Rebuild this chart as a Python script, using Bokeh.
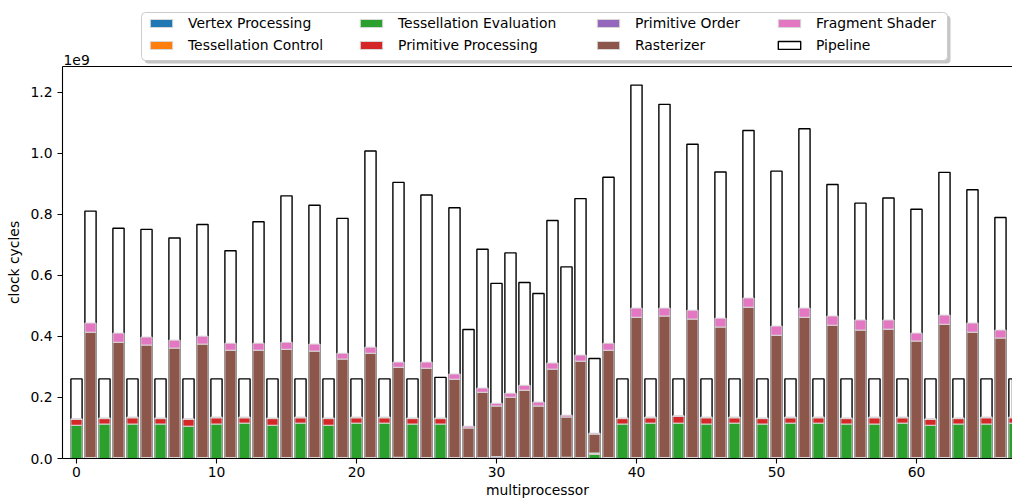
import numpy as np
from bokeh.plotting import figure
from bokeh.layouts import column
from bokeh.models import (ColumnDataSource, Legend, LegendItem, LinearAxis, Label,
                          BoxAnnotation, SingleIntervalTicker, FixedTicker,
                          CustomJSTickFormatter, Range1d)
from bokeh.embed import file_html
from bokeh.resources import INLINE

# ---------------- data (millions of clock cycles) ----------------
multiprocessor = list(range(68))

pipeline_M = [261, 811, 261, 755, 261, 751, 261, 723, 261, 767,
              261, 681, 261, 776, 261, 861, 261, 830, 261, 787,
              261, 1008, 261, 905, 261, 864, 266, 822, 423, 686,
              574, 674, 577, 541, 780, 628, 852, 328, 922, 261,
              1224, 261, 1161, 261, 1030, 261, 939, 261, 1075, 261,
              942, 261, 1081, 261, 898, 261, 837, 261, 854, 261,
              817, 261, 938, 261, 881, 261, 790, 261]

vertex_M = [0] * 68
tess_control_M = [0] * 68

tess_eval_M = [109, 0, 113, 0, 113, 0, 113, 0, 106, 0,
               113, 0, 116, 0, 109, 0, 116, 0, 109, 0,
               116, 0, 116, 0, 113, 0, 113, 0, 0, 0,
               0, 0, 0, 0, 0, 0, 0, 14, 0, 113,
               0, 116, 0, 116, 0, 113, 0, 116, 0, 113,
               0, 116, 0, 116, 0, 113, 0, 113, 0, 116,
               0, 109, 0, 113, 0, 113, 0, 116]

prim_proc_M = [19, 2, 18, 2, 21, 2, 18, 2, 22, 2,
               21, 2, 18, 2, 22, 2, 18, 2, 22, 2,
               18, 2, 18, 2, 18, 2, 18, 2, 2, 2,
               2, 2, 2, 2, 2, 2, 2, 3, 2, 18,
               2, 18, 2, 22, 2, 21, 2, 18, 2, 18,
               2, 18, 2, 18, 2, 18, 2, 21, 2, 18,
               2, 19, 2, 18, 2, 21, 2, 18]

prim_order_M = [0, 1, 0, 1, 0, 1, 0, 1, 0, 1,
                0, 1, 0, 1, 0, 1, 0, 1, 0, 1,
                0, 1, 0, 2, 0, 1, 0, 1, 1, 1,
                4, 1, 1, 1, 1, 2, 1, 1, 1, 0,
                1, 0, 1, 0, 1, 0, 1, 0, 1, 0,
                1, 0, 1, 0, 1, 0, 1, 0, 1, 0,
                1, 0, 1, 0, 1, 0, 1, 0]

rasterizer_M = [0, 411, 0, 378, 0, 369, 0, 359, 0, 372,
                0, 352, 0, 352, 0, 355, 0, 349, 0, 323,
                0, 342, 0, 295, 0, 293, 0, 257, 97, 214,
                166, 198, 221, 169, 290, 132, 316, 62, 352, 0,
                460, 0, 464, 0, 454, 0, 428, 0, 493, 0,
                401, 0, 460, 0, 434, 0, 418, 0, 421, 0,
                382, 0, 437, 0, 411, 0, 392, 0]

fragment_M = [2, 30, 2, 30, 2, 26, 2, 26, 2, 26,
              2, 23, 2, 23, 2, 23, 2, 23, 2, 19,
              2, 20, 2, 17, 2, 20, 2, 17, 6, 14,
              9, 13, 16, 13, 20, 6, 20, 3, 23, 2,
              30, 2, 26, 2, 29, 2, 29, 2, 30, 2,
              30, 2, 30, 2, 30, 2, 33, 2, 30, 2,
              26, 2, 30, 2, 30, 2, 26, 2]

stage_names = ["Vertex Processing", "Tessellation Control", "Tessellation Evaluation",
               "Primitive Processing", "Primitive Order", "Rasterizer", "Fragment Shader"]
stage_colors = ["#1f77b4", "#ff7f0e", "#2ca02c", "#d62728", "#9467bd", "#8c564b", "#e377c2"]
stage_keys = ["vertex", "tess_control", "tess_eval", "prim_proc", "prim_order",
              "rasterizer", "fragment"]
stage_values = [vertex_M, tess_control_M, tess_eval_M, prim_proc_M, prim_order_M,
                rasterizer_M, fragment_M]

UNIT = 1e6
data = {"x": multiprocessor, "pipeline": [v * UNIT for v in pipeline_M]}
for k, vals in zip(stage_keys, stage_values):
    data[k] = [v * UNIT for v in vals]
src = ColumnDataSource(data)

FONT = "DejaVu Sans"
FS = "13.9px"
EDGE = "#d8d8d8"

# ---------------- main chart ----------------
p = figure(width=1012, height=434,
           x_range=Range1d(-1.0, 66.86), y_range=Range1d(0, 1.285e9),
           output_backend="svg", toolbar_location=None,
           min_border_left=62, min_border_right=0, min_border_top=0, min_border_bottom=42)
p.outline_line_color = None
p.xgrid.visible = False
p.ygrid.visible = False
p.background_fill_color = "white"
p.border_fill_color = "white"

pipe = p.vbar(x="x", top="pipeline", width=0.8, source=src,
              fill_color="white", line_color="black", line_width=1.4)

stack = p.vbar_stack(stage_keys, x="x", width=0.8, source=src,
                     fill_color=stage_colors, line_color=EDGE, line_width=1)

for ax in (p.xaxis[0], p.yaxis[0]):
    ax.axis_line_color = "black"
    ax.axis_line_width = 1.1
    ax.major_tick_line_color = "black"
    ax.major_tick_line_width = 1.1
    ax.major_tick_out = 5
    ax.major_tick_in = 0
    ax.minor_tick_line_color = None
    ax.major_label_text_font = FONT
    ax.major_label_text_font_size = FS
    ax.major_label_text_color = "black"
    ax.axis_label_text_font = FONT
    ax.axis_label_text_font_size = FS
    ax.axis_label_text_font_style = "normal"
    ax.axis_label_text_color = "black"

p.xaxis.ticker = SingleIntervalTicker(interval=10, num_minor_ticks=0)
p.xaxis.axis_label = "multiprocessor"
p.xaxis.major_label_standoff = 3
p.xaxis.axis_label_standoff = 2

p.yaxis.ticker = SingleIntervalTicker(interval=2e8, num_minor_ticks=0)
p.yaxis.formatter = CustomJSTickFormatter(code="return (tick/1e9).toFixed(1);")
p.yaxis.axis_label = "clock cycles"
p.yaxis.major_label_standoff = 5
p.yaxis.axis_label_standoff = 5

top_axis = LinearAxis(ticker=FixedTicker(ticks=[]), axis_line_color="black",
                      axis_line_width=1.1, major_tick_line_color=None,
                      minor_tick_line_color=None, major_tick_out=0, major_tick_in=0,
                      major_label_standoff=0, major_label_text_font_size="0px")
p.add_layout(top_axis, "above")

# ---------------- legend strip (above the chart; frame aligned with chart frame) ----------------
t = figure(width=1012, height=66, x_range=Range1d(0, 950), y_range=Range1d(0, 66),
           output_backend="svg", toolbar_location=None,
           x_axis_location=None, y_axis_location=None,
           min_border_left=62, min_border_right=0, min_border_top=0, min_border_bottom=0)
t.outline_line_color = None
t.xgrid.visible = False
t.ygrid.visible = False
t.background_fill_color = "white"
t.border_fill_color = "white"

# legend swatch renderers (not drawn, only used by the legend)
swatches = {}
for n, k, c in zip(stage_names, stage_keys, stage_colors):
    swatches[n] = t.vbar(x="x", top=k, width=0.8, source=src, visible=False,
                         fill_color=c, line_color=EDGE, line_width=1)
swatches["Pipeline"] = t.vbar(x="x", top="pipeline", width=0.8, source=src, visible=False,
                              fill_color="white", line_color="black", line_width=1.4)

t.add_layout(Label(x=1, y=2, x_units="screen", y_units="screen", text="1e9",
                   text_font=FONT, text_font_size=FS, text_color="black",
                   text_baseline="bottom"))

t.add_layout(BoxAnnotation(left=82, right=888, top=51, bottom=3,
                           left_units="screen", right_units="screen",
                           top_units="screen", bottom_units="screen",
                           fill_color="#a0a0a0", fill_alpha=0.6, line_color=None,
                           border_radius=4))
t.add_layout(BoxAnnotation(left=79, right=885, top=54, bottom=6,
                           left_units="screen", right_units="screen",
                           top_units="screen", bottom_units="screen",
                           fill_color="white", fill_alpha=1, line_color="#cccccc",
                           line_alpha=1, line_width=1, line_dash="solid",
                           border_radius=4))

columns = [["Vertex Processing", "Tessellation Control"],
           ["Tessellation Evaluation", "Primitive Processing"],
           ["Primitive Order", "Rasterizer"],
           ["Fragment Shader", "Pipeline"]]
col_x = [85, 295, 532, 713]
for names, cx in zip(columns, col_x):
    lg = Legend(items=[LegendItem(label=n, renderers=[swatches[n]]) for n in names],
                location=(cx, 12), orientation="vertical",
                border_line_color=None, background_fill_alpha=0,
                padding=0, spacing=4, margin=0,
                glyph_width=28, glyph_height=10, label_height=18,
                label_standoff=13, label_text_font=FONT, label_text_font_size=FS,
                label_text_color="black")
    t.add_layout(lg, "center")

layout = column(t, p, spacing=0)
open("out.html", "w").write(file_html(layout, INLINE))
